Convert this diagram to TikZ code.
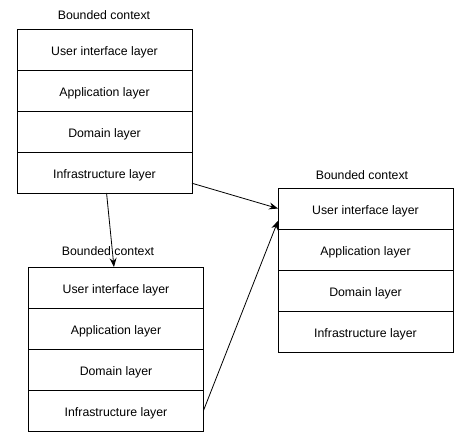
\documentclass[tikz,border=0pt]{standalone}
\usepackage{fontspec}
\setmainfont{Liberation Sans}
\usetikzlibrary{positioning,arrows.meta}

\begin{document}
\begin{tikzpicture}[x=1pt,y=1pt,
                    every node/.style={font=\fontsize{12.3}{14}\selectfont},
                    layer/.style={draw,line width=0.8pt,minimum width=175pt,minimum height=41pt,outer sep=0pt,
                                  text height=11.5pt,text depth=0pt},
                    link/.style={line width=0.8pt,-{Stealth[length=9pt,width=7pt,inset=3pt]}}
]
\useasboundingbox (0,0) rectangle (469,-443);

% upper left context
\node [layer] at (104.5,-49.5) (tlui) {User interface layer};
\node [layer,below=0pt of tlui] (tlapp) {Application layer};
\node [layer,below=0pt of tlapp] (tldom) {Domain layer};
\node [layer,below=0pt of tldom] (tlinf) {Infrastructure layer};
\node at (104,-15) (tlname) {Bounded context};
%
% lower left context
\node [layer] at (116,-287.5) (blui) {User interface layer};
\node [layer,below=0pt of blui] (blapp) {Application layer};
\node [layer,below=0pt of blapp] (bldom) {Domain layer};
\node [layer,below=0pt of bldom] (blinf) {Infrastructure layer};
\node at (108,-251) (blname) {Bounded context};
%
% right context
\node [layer] at (365.5,-208.5) (rui) {User interface layer};
\node [layer,below=0pt of rui] (rapp) {Application layer};
\node [layer,below=0pt of rapp] (rdom) {Domain layer};
\node [layer,below=0pt of rdom] (rinf) {Infrastructure layer};
\node at (362,-175) (rname) {Bounded context};
%
\draw [link] (tlinf) -- (blui);
\draw [link] (tlinf.-7.5) -- (rui.west);
\draw [link] (blinf.east) -- (rui.-172);
\end{tikzpicture}
\end{document}
